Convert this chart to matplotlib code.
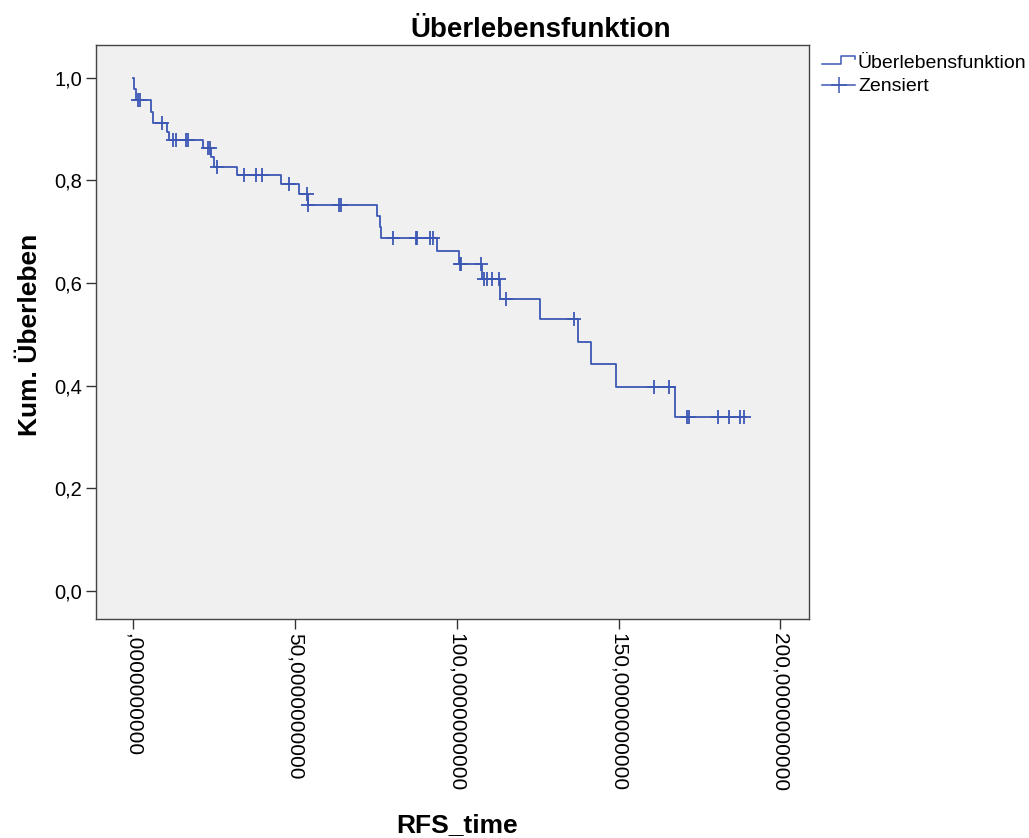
import matplotlib
matplotlib.use("Agg")
import matplotlib.pyplot as plt
import numpy as np
from matplotlib.legend_handler import HandlerBase
from matplotlib.lines import Line2D
from matplotlib.ticker import FuncFormatter

plt.rcParams['font.family'] = ['Liberation Sans', 'DejaVu Sans']

# Kaplan-Meier estimate for RFS_time: drop times and survival after each drop
event_times = [0.3, 0.9, 5.7, 6.3, 10.5, 11.2, 21.8, 24.2, 25.0, 32.3, 45.8,
               51.4, 54.0, 75.5, 76.2, 76.6, 93.8, 100.7, 107.9, 113.4,
               125.6, 137.6, 141.6, 149.1, 167.5]
survival = [0.978, 0.956, 0.934, 0.912, 0.895, 0.879, 0.864, 0.846, 0.826,
            0.811, 0.793, 0.773, 0.752, 0.731, 0.709, 0.687, 0.663, 0.637,
            0.608, 0.569, 0.530, 0.486, 0.442, 0.397, 0.340]

# censored observations
censored_times = [1.7, 2.3, 9.1, 12.5, 13.4, 16.5, 17.1, 23.1, 23.7, 26.0,
                  34.4, 38.0, 39.8, 48.1, 53.9, 54.1, 63.6, 64.4, 80.2, 87.4,
                  87.9, 91.9, 92.7, 100.9, 101.4, 107.4, 108.4, 109.5, 111.0,
                  113.1, 115.1, 136.1, 161.0, 165.6, 171.1, 171.7, 180.7,
                  184.2, 187.6, 188.6]

x_ticks = [0, 50, 100, 150, 200]
y_ticks = [0.0, 0.2, 0.4, 0.6, 0.8, 1.0]

line_color = '#3d58b4'


class StepHandler(HandlerBase):
    def create_artists(self, legend, orig_handle, xdescent, ydescent,
                       width, height, fontsize, trans):
        xs = np.array([0.0, 0.58, 0.58, 1.0, 1.0]) * width - xdescent
        ys = np.array([0.25, 0.25, 0.85, 0.85, 0.6]) * height - ydescent
        ln = Line2D(xs, ys, color=orig_handle.get_color(),
                    lw=orig_handle.get_linewidth())
        ln.set_transform(trans)
        return [ln]


fig = plt.figure(figsize=(10.29, 8.38), dpi=100)
ax = fig.add_axes([96 / 1029, 1 - 619 / 838, 713 / 1029, 574 / 838])
ax.set_facecolor('#f0f0f0')

levels = np.array([1.0] + survival)
t_end = max(censored_times)
t_steps = [0.0] + event_times + [t_end]
s_steps = list(levels) + [levels[-1]]
curve, = ax.step(t_steps, s_steps, where='post', color=line_color, lw=1.3)

idx = np.searchsorted(event_times, censored_times, side='right')
cens, = ax.plot(censored_times, levels[idx], ls='none', marker='+',
                markersize=9.5, markeredgewidth=1.3, color=line_color)

ax.set_xlim(-11.35, 208.8)
ax.set_ylim(-0.0546, 1.064)
ax.set_xticks(x_ticks)
ax.set_yticks(y_ticks)
ax.xaxis.set_major_formatter(FuncFormatter(
    lambda v, p: (',0000000000' if v == 0 else f'{int(v)},0000000000')))
ax.yaxis.set_major_formatter(FuncFormatter(
    lambda v, p: f'{v:.1f}'.replace('.', ',')))
ax.tick_params(axis='both', direction='out', length=7, width=1,
               color='#333333')
ax.tick_params(axis='x', labelrotation=-90, pad=3, labelsize=15)
ax.tick_params(axis='y', pad=3, labelsize=14.5)
for lbl in ax.get_xticklabels():
    lbl.set_va('top')
    lbl.set_ha('center')
for sp in ax.spines.values():
    sp.set_color('#444444')
    sp.set_linewidth(1.0)

ax.set_ylabel('Kum. Überleben', fontsize=19, fontweight='bold')
ax.yaxis.set_label_coords(-0.0757, 0.495)
ax.set_xlabel('RFS_time', fontsize=19, fontweight='bold')
ax.xaxis.set_label_coords(0.507, -0.338)

fig.text(541 / 1029, 1 - 30 / 838, 'Überlebensfunktion', fontsize=20,
         fontweight='bold', ha='center', va='center')

leg_curve = Line2D([], [], color=line_color, lw=1.1)
leg_cens = Line2D([], [], color=line_color, lw=1.1, marker='+',
                  markersize=12, markeredgewidth=1.1)
fig.legend([leg_curve, leg_cens], ['Überlebensfunktion', 'Zensiert'],
           handler_map={leg_curve: StepHandler()}, loc='upper left',
           bbox_to_anchor=(822 / 1029, 1 - 54 / 838), frameon=False,
           fontsize=14, handlelength=1.7, handletextpad=0.15,
           borderpad=0, borderaxespad=0, labelspacing=0.32, numpoints=1)

fig.savefig('out.png', dpi=100, facecolor='white')
